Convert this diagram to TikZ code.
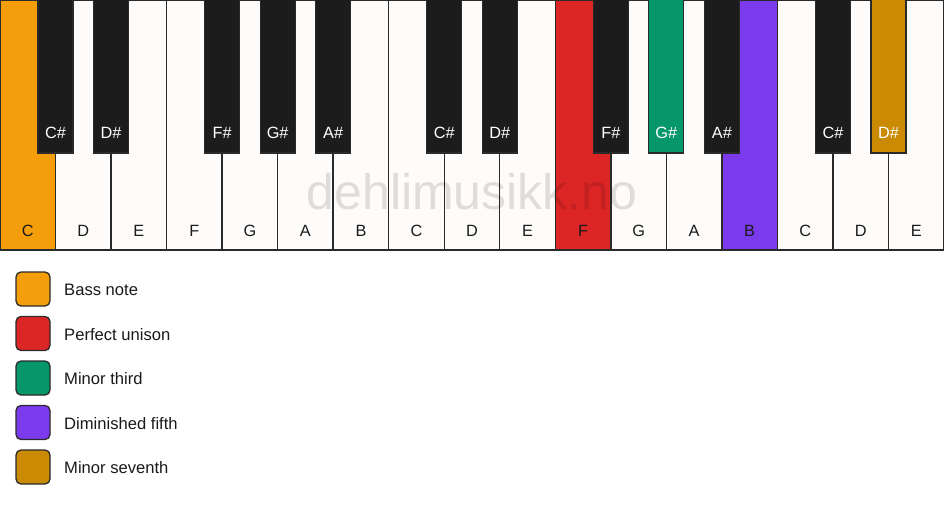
\documentclass[tikz,border=0pt]{standalone}
\usepackage{fontspec}
\setmainfont{Liberation Sans}
\definecolor{wkey}{HTML}{FDFCFA}
\definecolor{bkey}{HTML}{1C1C1C}
\definecolor{keyline}{HTML}{2A2A2A}
\definecolor{cbass}{HTML}{F59E0B}
\definecolor{cunison}{HTML}{DC2626}
\definecolor{cthird}{HTML}{059669}
\definecolor{cfifth}{HTML}{7C3AED}
\definecolor{cseventh}{HTML}{CA8A04}
\definecolor{txt}{HTML}{1A1A1A}
\tikzset{
  whitekey/.style={draw=keyline,line width=1.4pt,fill=wkey},
  blackkey/.style={draw=keyline,line width=1.2pt,fill=bkey},
  wlabel/.style={font=\fontsize{16.3}{18}\selectfont,text=txt,anchor=center},
  blabel/.style={font=\fontsize{16.3}{18}\selectfont,text=white,anchor=center},
  legbox/.style={draw=keyline,line width=1.3pt,rounded corners=5pt,minimum width=34pt,minimum height=34pt,inner sep=0pt},
  legtext/.style={font=\fontsize{16.6}{18}\selectfont,text=txt,anchor=west,inner sep=0pt},
}
\begin{document}
\begin{tikzpicture}[x=1pt,y=-1pt]
\useasboundingbox (0,0) rectangle (944,506);
\fill[white] (0,0) rectangle (944,506);
\def\ww{55.5294}
% white keys
\foreach \i/\n/\c in {0/C/cbass,1/D/wkey,2/E/wkey,3/F/wkey,4/G/wkey,5/A/wkey,6/B/wkey,7/C/wkey,8/D/wkey,9/E/wkey,10/F/cunison,11/G/wkey,12/A/wkey,13/B/cfifth,14/C/wkey,15/D/wkey,16/E/wkey}{
  \draw[whitekey,fill=\c] ({\i*\ww},0) rectangle ({(\i+1)*\ww},250);
  \node[wlabel] (w\i) at ({(\i+0.5)*\ww},231) {\n};
}
% black keys
\foreach \b/\n/\c/\t in {1/C\#/bkey/white,2/D\#/bkey/white,4/F\#/bkey/white,5/G\#/bkey/white,6/A\#/bkey/white,8/C\#/bkey/white,9/D\#/bkey/white,11/F\#/bkey/white,12/G\#/cthird/white,13/A\#/bkey/white,15/C\#/bkey/white,16/D\#/cseventh/white}{
  \draw[blackkey,fill=\c] ({\b*\ww-17.5},-2) rectangle ({\b*\ww+17.5},153);
  \node[blabel,text=\t] (b\b) at ({\b*\ww},133) {\n};
}
% watermark
\node[font=\fontsize{50}{55}\selectfont,text=black,text opacity=0.12] (wm) at (472,192) {dehlimusikk.no};
% legend
\foreach \k/\c/\l in {0/cbass/Bass note,1/cunison/Perfect unison,2/cthird/Minor third,3/cfifth/Diminished fifth,4/cseventh/Minor seventh}{
  \node[legbox,fill=\c] (lb\k) at (33,{289+\k*44.5}) {};
  \node[legtext] (lt\k) at (64,{290+\k*44.5}) {\l};
}
\end{tikzpicture}
\end{document}
